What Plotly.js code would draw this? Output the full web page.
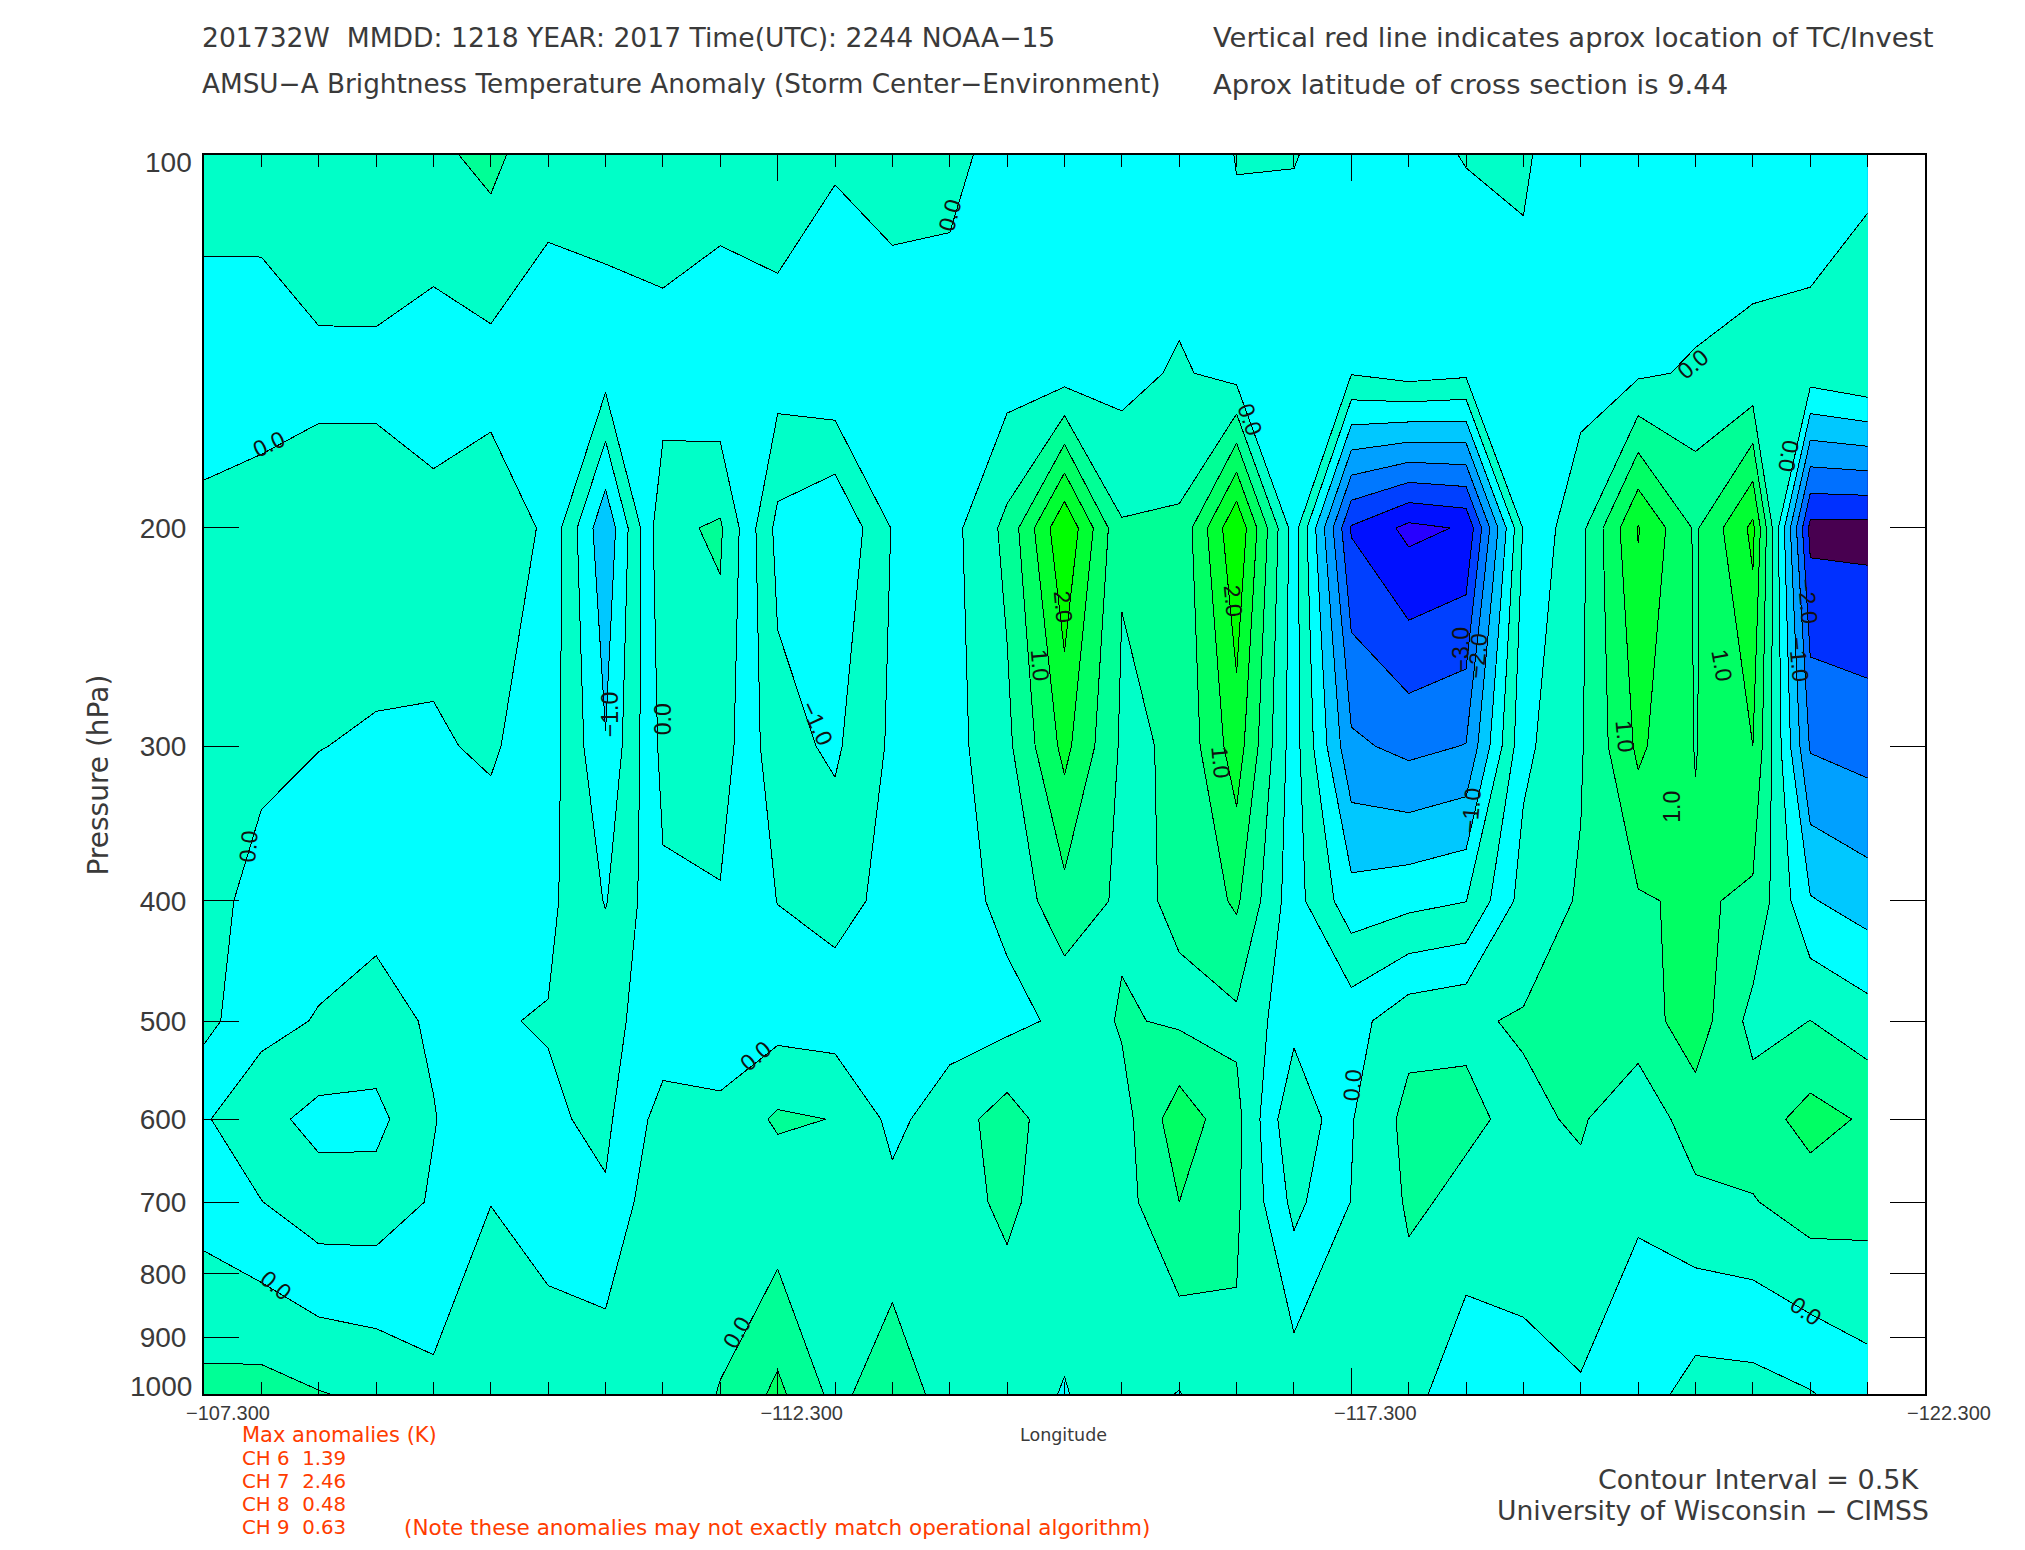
<!DOCTYPE html>
<html><head><meta charset="utf-8">
<script src="https://cdn.plot.ly/plotly-3.0.1.min.js"></script>
<style>html,body{margin:0;padding:0;background:#fff}</style></head>
<body><div id="chart" style="width:2025px;height:1550px"></div>
<script>
const longitudes=[-107.3,-107.8,-108.3,-108.8,-109.3,-109.8,-110.3,-110.8,-111.3,-111.8,-112.3,-112.8,-113.3,-113.8,-114.3,-114.8,-115.3,-115.8,-116.3,-116.8,-117.3,-117.8,-118.3,-118.8,-119.3,-119.8,-120.3,-120.8,-121.3,-121.8];
const pressures=[100,150,200,300,400,500,600,700,1000];
const z100=[.25,.29,.45,.47,.38,.65,.1,.3,.47,.32,.32,.01,.106,.08,-.115,-.1,-.1,-.4,.02,.01,-.1,-.154,.025,.077,-.4,-.2,-.45,-.15,-.4,-.178];
const z150=[-.29,-.33,-.125,-.127,-.25,-.19,-.15,-.3,-.3,-.45,-.27,-.063,-.15,-.145,-.22,-.24,-.177,.07,-.2,-.15,-.47,-.29,-.4,-.2,-.217,-.08,.06,.07,.26,.49];
const z200=[.13,.3,.26,.264,.155,.31,-.08,-1.9,.39,.565,-1.15,-1.5,-.47,-.185,.634,2.46,.55,.58,2.46,-.25,-3.55,-4.13,-3.95,-.45,.35,2.03,.93,2.12,-2.65,-2.665];
const z300=[.13,.09,.01,-.05,-.04,.05,-.23,-1.47,.15,.26,-.83,-1.084,-.41,-.19,.38,1.65,.42,.56,1.77,-.28,-2.4,-2.64,-2.48,-.123,.45,1.6,.98,1.5,-1.55,-1.7];
const z400=[.14,-.13,-.27,-.36,-.24,-.21,-.38,-1.03,-.085,-.04,-.51,-.664,-.36,-.2,.12,.84,.4,.56,1.08,-.3,-1.3,-1.15,-1.01,.203,.55,.95,1.08,.9,-.46,-.73];
const z500=[.14,-.34,-.534,-.667,-.44,-.47,-.527,-.6,-.323,-.347,-.19,-.244,-.3,-.207,-.14,.1,.56,.42,.39,-.33,-.19,.33,.45,.54,.65,.75,1.28,.33,.505,.215];
const z600=[-.45,-.85,-1.147,-1.15,-.52,-.2,-.43,-.6,.21,.14,.574,.486,-.1225,.256,.74,.12,.3,1.3,.65,-.95,-.03,.65,.56,.42,.55,.17,.75,.76,1.18,.93];
const z700=[-.218,-.49,-.785,-.766,-.45,-.01,-.2,-.445,.45,.3,.17,.2,.127,.3,.6,.2,.3,1.0,.58,-.64,.012,.56,.42,.3,.39,.05,.375,.47,.74,.686];
const z1000=[.638,.68,.526,.396,.116,.45,.26,.354,.3,.516,1.117,.35,.84,.25,.15,-.02,.2,-.02,.4,.3,.3,.23,-.446,-.2,-.05,-.22,-.72,-.69,-.53,-.24];
const levelFloors=[-5,-4.5,-4,-3.5,-3,-2.5,-2,-1.5,-1,-.5,0,.5,1,1.5,2,2.5];
const mainColors=['#2800FF','#2800FF','#0010FF','#0040FF','#0078FF','#00A0FF','#00C8FF','#00FFFF','#00FFC8','#00FFFF','#00FFC8','#00FF96','#00FF64','#00FF32','#00FF00','#00FF00'];
const edgeColors=['#480050','#480050','#480050','#480050','#480050','#0030FF','#0070FF','#00A0FF','#00C8FF','#00FFFF','#00FFC8','#00FF96','#00FF64','#00FF32','#00FF00','#00FF00'];
const tickLabelsX=['\u2212107.300','\u2212112.300','\u2212117.300','\u2212122.300'];
const tickValsX=[-107.3,-112.3,-117.3,-122.3];
const tickValsY=[200,300,400,500,600,700,800,900];
const contourLabels=[
['0.0',208,344,-25],['0.0',735,167,-75],['0.0',968,325,70],['0.0',1311,282,-40],['0.0',1385,353,100],
['2.0',823,470,85],['1.0',805,515,85],['2.0',955,465,85],['1.0',945,590,85],['0.0',192,655,-85],
['0.0',213,995,40],['0.0',585,818,-40],['0.0',570,1032,-60],['\u22121.0',472,553,-90],['0.0',513,557,-90],
['\u22121.0',632,560,65],['0.0',1047,840,-85],['\u22123.0',1131,503,-90],['\u22122.0',1144,508,-85],['\u22121.0',1139,628,-85],
['\u22122.0',1400,465,85],['\u22121.0',1393,510,85],['1.0',1258,570,85],['1.0',1295,625,-90],['1.0',1333,515,80],['0.0',1398,1015,35]];
const L=203.5,R=1925,T=155,B=1394,S=1.2915;
const px=x=>(x-L)/(R-L), py=y=>(B-y)/(B-T);
function scale(colors){const out=[],a=-5,b=3;levelFloors.forEach((f,i)=>{const hi=i<levelFloors.length-1?levelFloors[i+1]:b;out.push([(f-a)/(b-a),colors[i]]);out.push([(Math.min(hi,b)-a)/(b-a),colors[i]]);});return out.filter(s=>s[0]<=1);}
const rows=[z100,z150,z200,z300,z400,z500,z600,z700,z1000];
const base={type:'contour',autocontour:false,zmin:-5,zmax:3,zauto:false,showscale:false,hoverinfo:'skip',
 contours:{start:-4.5,end:2.5,size:.5,coloring:'fill',showlines:true},line:{color:'#000',width:1,smoothing:0}};
const main=Object.assign({},base,{x:longitudes,y:pressures,z:rows,colorscale:scale(mainColors)});
const edge=Object.assign({},base,{x:longitudes.slice(27),y:pressures.slice(0,7),z:rows.slice(0,7).map(r=>r.slice(27)),colorscale:scale(edgeColors)});
const ink='#3a3a3a';
function t(text,xp,yp,size,opt){return Object.assign({text,xref:'paper',yref:'paper',x:px(xp),y:py(yp),showarrow:false,xanchor:'left',yanchor:'middle',font:{family:'DejaVu Sans',size,color:ink}},opt||{});}
const red='#FF3C00';
const redFont=s=>({font:{family:'DejaVu Sans',size:s,color:red}});
const ann=[
t('201732W  MMDD: 1218 YEAR: 2017 Time(UTC): 2244 NOAA\u221215',199,37.5,26.6),
t('AMSU\u2212A Brightness Temperature Anomaly (Storm Center\u2212Environment)',199,84,26.3),
t('Vertical red line indicates aprox location of TC/Invest',1211,37.5,27.4),
t('Aprox latitude of cross section is 9.44',1211,84,27.4),
t('Pressure (hPa)',97,775,28,{textangle:-90,xanchor:'center'}),
t('Longitude',1063,1435,17.5,{xanchor:'center'}),
t('100',193,163,28,{xanchor:'right',font:{family:'Liberation Sans',size:28,color:ink}}),
t('1000',193,1386,28,{xanchor:'right',font:{family:'Liberation Sans',size:28,color:ink}}),
t('Max anomalies (K)',240,1435,21,redFont(21)),
t('CH 6  1.39',240,1458,19.8,redFont(19.8)),
t('CH 7  2.46',240,1481,19.8,redFont(19.8)),
t('CH 8  0.48',240,1504,19.8,redFont(19.8)),
t('CH 9  0.63',240,1527,19.8,redFont(19.8)),
t('(Note these anomalies may not exactly match operational algorithm)',402,1527,21.5,redFont(21.5)),
t('Contour Interval = 0.5K',1596,1479,27),
t('University of Wisconsin \u2212 CIMSS',1495,1510,26.6)
];
contourLabels.forEach(c=>ann.push({text:c[0],xref:'paper',yref:'paper',x:px(c[1]*S),y:py(c[2]*S),showarrow:false,textangle:c[3],xanchor:'center',yanchor:'middle',font:{family:'Liberation Sans',size:23,color:'#111'}}));
const layout={width:2025,height:1550,paper_bgcolor:'#fff',plot_bgcolor:'#fff',showlegend:false,
 margin:{l:L,r:2025-R,t:T,b:1550-B,pad:0},annotations:ann,
 xaxis:{range:[-107.3,-122.3],tickmode:'array',tickvals:tickValsX,ticktext:tickLabelsX,ticks:'inside',ticklen:26,tickcolor:'#000',tickwidth:1,
  mirror:'allticks',showline:true,linecolor:'#000',linewidth:2,showgrid:false,zeroline:false,ticklabelshift:-24,ticklabelstandoff:0,
  tickfont:{family:'Liberation Sans',size:20,color:ink},
  minor:{tickmode:'array',tickvals:longitudes,ticks:'inside',ticklen:12,tickcolor:'#000',tickwidth:1,showgrid:false}},
 yaxis:{type:'log',range:[3,2],tickmode:'array',tickvals:tickValsY,ticktext:tickValsY.map(String),ticks:'inside',ticklen:35,tickcolor:'#000',tickwidth:1,
  mirror:'allticks',showline:true,linecolor:'#000',linewidth:2,showgrid:false,zeroline:false,ticklabelstandoff:10,
  tickfont:{family:'Liberation Sans',size:28,color:ink}}
};
Plotly.newPlot('chart',[main,edge],layout,{staticPlot:true,displayModeBar:false}).then(()=>{
 document.querySelectorAll('.contour path, .ticks, .xtick path, .ytick path, .crisp').forEach(p=>{p.style.shapeRendering='crispEdges';});
});
</script></body></html>
